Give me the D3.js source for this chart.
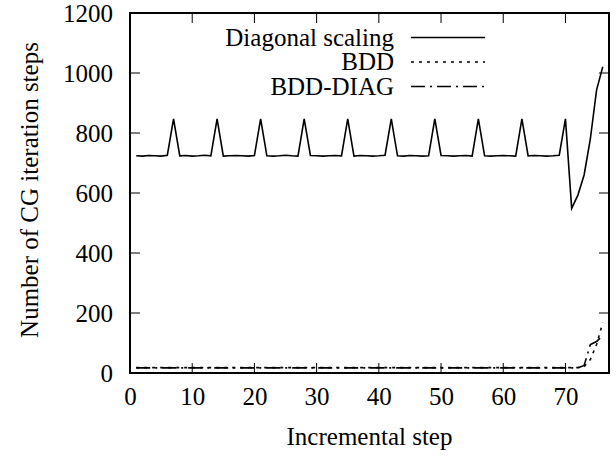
<!DOCTYPE html>
<html>
<head>
<meta charset="utf-8">
<script src="https://cdn.jsdelivr.net/npm/d3@7"></script>
<style>
  body { margin: 0; background: #fff; }
</style>
</head>
<body>
<svg id="chart" width="616" height="458" font-family="Liberation Serif" font-size="25"></svg>
<script>
"use strict";

// incremental steps 1..76
let steps = d3.range(1, 77)

let diagonal = [
  724, 723, 725, 724, 723, 726, 847,
  724, 725, 723, 724, 726, 724, 847,
  723, 724, 725, 724, 723, 725, 847,
  724, 723, 724, 726, 724, 723, 847,
  725, 724, 723, 724, 725, 724, 847,
  723, 725, 724, 723, 724, 726, 847,
  724, 723, 725, 724, 723, 724, 847,
  725, 724, 723, 724, 725, 723, 847,
  724, 723, 724, 725, 724, 723, 847,
  724, 725, 724, 723, 724, 726, 847,
  549, 593, 660, 780, 943, 1021
]

let bdd = [
  18, 18, 18, 18, 18, 18, 18, 18, 18, 18,
  18, 18, 18, 18, 18, 18, 18, 18, 18, 18,
  18, 18, 18, 18, 18, 18, 18, 18, 18, 18,
  18, 18, 18, 18, 18, 18, 18, 18, 18, 18,
  18, 18, 18, 18, 18, 18, 18, 18, 18, 18,
  18, 18, 18, 18, 18, 18, 18, 18, 18, 18,
  18, 18, 18, 18, 18, 18, 18, 18, 18, 18,
  18, 18, 22, 45, 95, 168
]

let bddDiag = [
  17, 17, 17, 17, 17, 17, 17, 17, 17, 17,
  17, 17, 17, 17, 17, 17, 17, 17, 17, 17,
  17, 17, 17, 17, 17, 17, 17, 17, 17, 17,
  17, 17, 17, 17, 17, 17, 17, 17, 17, 17,
  17, 17, 17, 17, 17, 17, 17, 17, 17, 17,
  17, 17, 17, 17, 17, 17, 17, 17, 17, 17,
  17, 17, 17, 17, 17, 17, 17, 17, 17, 17,
  17, 17, 25, 95, 105, 125
]

let xTicks = [0, 10, 20, 30, 40, 50, 60, 70]
let yTicks = [0, 200, 400, 600, 800, 1000, 1200]

let seriesNames = ["Diagonal scaling", "BDD", "BDD-DIAG"]
let seriesValues = [diagonal, bdd, bddDiag]
let seriesDash = [null, "3,5", "14,5,2,5"]

let svg = d3.select("#chart")
let plot = {left: 130, right: 609, top: 13, bottom: 373}
let tickLen = 10
let font = "Liberation Serif"
let fontSize = 25

let x = d3.scaleLinear().domain([0, 77]).range([plot.left, plot.right])
let y = d3.scaleLinear().domain([0, 1200]).range([plot.bottom, plot.top])

// ticks, inward on all four sides
let ticksG = svg.append("g").attr("stroke", "#000").attr("stroke-width", 1)
for (let t of xTicks) {
  ticksG.append("line").attr("x1", x(t)).attr("x2", x(t))
      .attr("y1", plot.bottom).attr("y2", plot.bottom - tickLen)
  ticksG.append("line").attr("x1", x(t)).attr("x2", x(t))
      .attr("y1", plot.top).attr("y2", plot.top + tickLen)
}
for (let t of yTicks) {
  ticksG.append("line").attr("y1", y(t)).attr("y2", y(t))
      .attr("x1", plot.left).attr("x2", plot.left + tickLen)
  ticksG.append("line").attr("y1", y(t)).attr("y2", y(t))
      .attr("x1", plot.right).attr("x2", plot.right - tickLen)
}

// tick labels via d3 axes, with the axis lines hidden
let xAxis = svg.append("g")
    .attr("transform", "translate(0," + plot.bottom + ")")
    .call(d3.axisBottom(x).tickValues(xTicks).tickFormat(d3.format("d")).tickSize(0).tickPadding(14))
let yAxis = svg.append("g")
    .attr("transform", "translate(" + plot.left + ",0)")
    .call(d3.axisLeft(y).tickValues(yTicks).tickFormat(d3.format("d")).tickSize(0).tickPadding(17))
for (let ax of [xAxis, yAxis]) {
  ax.attr("font-family", font).attr("font-size", fontSize)
  ax.select(".domain").remove()
  ax.selectAll("text").attr("fill", "#000")
}

// data lines
let line = d3.line()
    .x((d, i) => x(steps[i]))
    .y(d => y(d))
seriesValues.forEach((vals, k) => {
  svg.append("path")
      .datum(vals)
      .attr("d", line)
      .attr("fill", "none")
      .attr("stroke", "#000")
      .attr("stroke-width", 1.6)
      .attr("stroke-dasharray", seriesDash[k])
})

// border
svg.append("rect")
    .attr("x", plot.left).attr("y", plot.top)
    .attr("width", plot.right - plot.left).attr("height", plot.bottom - plot.top)
    .attr("fill", "none").attr("stroke", "#000").attr("stroke-width", 2)

// legend
let legend = svg.append("g")
seriesNames.forEach((name, k) => {
  let ly = 37.5 + k * 24.5
  legend.append("text")
      .attr("x", 394).attr("y", ly)
      .attr("dy", "0.33em")
      .attr("text-anchor", "end")
      .attr("font-family", font).attr("font-size", fontSize)
      .text(name)
  legend.append("line")
      .attr("x1", 411).attr("x2", 485)
      .attr("y1", ly).attr("y2", ly)
      .attr("stroke", "#000").attr("stroke-width", 1.6)
      .attr("stroke-dasharray", seriesDash[k])
})

// axis titles
svg.append("text")
    .attr("x", (plot.left + plot.right) / 2).attr("y", 445)
    .attr("text-anchor", "middle")
    .attr("font-family", font).attr("font-size", fontSize)
    .text("Incremental step")
svg.append("text")
    .attr("transform", "translate(38,190) rotate(-90)")
    .attr("text-anchor", "middle")
    .attr("font-family", font).attr("font-size", fontSize)
    .text("Number of CG iteration steps")
</script>
</body>
</html>
